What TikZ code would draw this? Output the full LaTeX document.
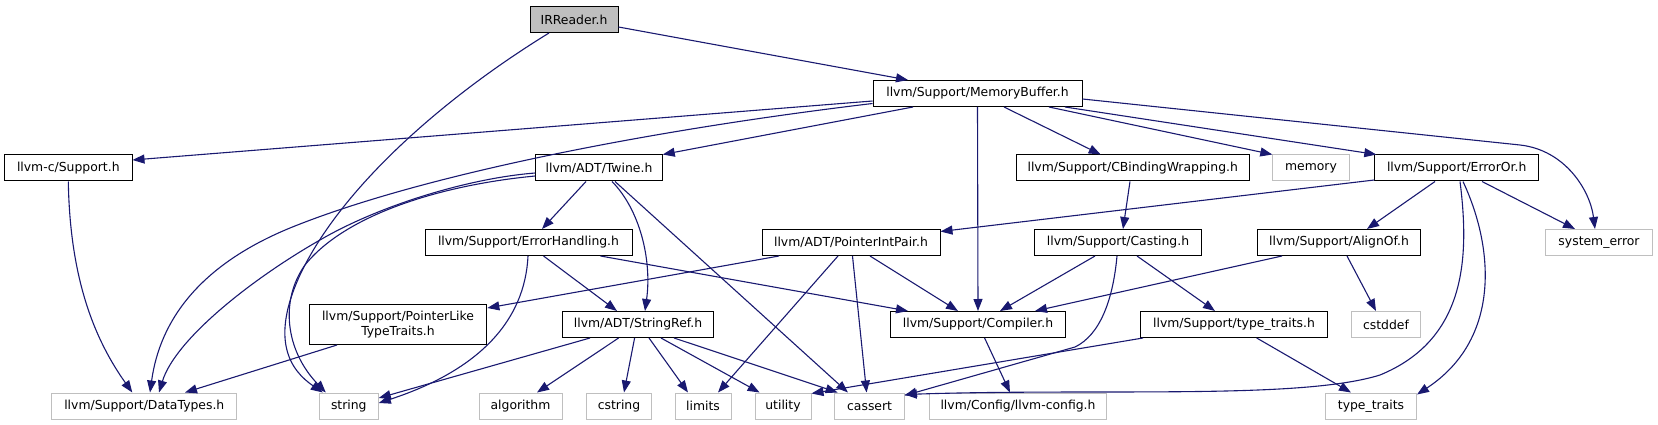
\documentclass[tikz,border=0pt]{standalone}
\usepackage{fontspec}
\newfontfamily\dv{DejaVu Sans}
\usetikzlibrary{arrows.meta}
\definecolor{edgec}{HTML}{191970}
\definecolor{extc}{HTML}{BFBFBF}
\definecolor{rootc}{HTML}{BFBFBF}
\begin{document}
\begin{tikzpicture}[x=1pt,y=-1pt,
  nd/.style={draw=black, line width=1pt, fill=white, inner sep=0pt, minimum height=26pt,
    font=\dv\fontsize{12.4}{15}\selectfont, align=center},
  ext/.style={nd, draw=extc},
  root/.style={nd, fill=rootc},
  edge/.style={draw=edgec, line width=1.1pt, -{Triangle[length=12pt,width=9pt]}}]
\useasboundingbox (0,0) rectangle (1658,425);
% nodes
\node[root, minimum width=88pt] (ir) at (574,19.5) {IRReader.h};
\node[nd, minimum width=209pt] (mb) at (977.5,93.5) {llvm/Support/MemoryBuffer.h};
\node[nd, minimum width=127.4pt] (supc) at (68.3,168) {llvm-c/Support.h};
\node[nd, minimum width=126.5pt] (twine) at (599,168) {llvm/ADT/Twine.h};
\node[nd, minimum width=233.4pt] (cbind) at (1132.7,168) {llvm/Support/CBindingWrapping.h};
\node[ext, minimum width=76.4pt] (memory) at (1311,168) {memory};
\node[nd, minimum width=163.8pt] (erroror) at (1456.7,168) {llvm/Support/ErrorOr.h};
\node[nd, minimum width=207pt] (eh) at (528.5,242.5) {llvm/Support/ErrorHandling.h};
\node[nd, minimum width=178pt] (pip) at (851,242.5) {llvm/ADT/PointerIntPair.h};
\node[nd, minimum width=166.6pt] (casting) at (1118,242.5) {llvm/Support/Casting.h};
\node[nd, minimum width=163.4pt] (alignof) at (1339,242.5) {llvm/Support/AlignOf.h};
\node[ext, minimum width=107.3pt] (syserr) at (1599,242.5) {system\_error};
\node[nd, minimum width=177.7pt, minimum height=40pt] (pltt) at (398,324.5) {llvm/Support/PointerLike\\TypeTraits.h};
\node[nd, minimum width=150.7pt] (sref) at (638,324.5) {llvm/ADT/StringRef.h};
\node[nd, minimum width=174.3pt] (compiler) at (978,324.5) {llvm/Support/Compiler.h};
\node[nd, minimum width=186.6pt] (tth) at (1234,324.5) {llvm/Support/type\_traits.h};
\node[ext, minimum width=69.6pt] (cstddef) at (1386,324.5) {cstddef};
\node[ext, minimum width=185pt] (dtypes) at (144.3,406) {llvm/Support/DataTypes.h};
\node[ext, minimum width=59pt] (string) at (348.8,406) {string};
\node[ext, minimum width=83pt] (algorithm) at (520.5,406) {algorithm};
\node[ext, minimum width=65.4pt] (cstring) at (619,406) {cstring};
\node[ext, minimum width=56pt] (limits) at (703,406) {limits};
\node[ext, minimum width=56pt] (utility) at (783,406) {utility};
\node[ext, minimum width=69.3pt] (cassert) at (869.6,406) {cassert};
\node[ext, minimum width=177.4pt] (lconfig) at (1018,406) {llvm/Config/llvm-config.h};
\node[ext, minimum width=91pt] (ttraits) at (1371,406) {type\_traits};
% edges from IRReader
\draw[edge] ([yshift=-7.5]ir.east) -- ([xshift=-69.5]mb.north);
\draw[edge] ([xshift=-25]ir.south) .. controls (440,100) and (340,190) .. (300,275) .. controls (270,340) and (290,370) .. ([xshift=-26]string.north);
% edges from MemoryBuffer
\draw[edge] ([yshift=-7.5]mb.west) -- ([yshift=8]supc.east);
\draw[edge] ([yshift=-10]mb.west) .. controls (650,130) and (420,175) .. (290,228) .. controls (200,265) and (160,320) .. ([xshift=5.7]dtypes.north);
\draw[edge] ([xshift=-64.5]mb.south) -- (twine.north east);
\draw[edge] (mb.south) -- (compiler.north);
\draw[edge] ([xshift=26.5]mb.south) -- ([xshift=-32]cbind.north);
\draw[edge] ([xshift=71.5]mb.south) -- (memory.north west);
\draw[edge] ([xshift=87.5]mb.south) -- ([xshift=2]erroror.north west);
\draw[edge] ([yshift=-5.5]mb.east) -- (1520,145) .. controls (1565,150) and (1590,190) .. ([xshift=-4]syserr.north);
% llvm-c/Support.h
\draw[edge] (supc.south) .. controls (70,280) and (95,340) .. ([xshift=-12]dtypes.north);
% Twine
\draw[edge] ([yshift=-5]twine.west) .. controls (470,178) and (380,205) .. (320,240) .. controls (250,280) and (175,340) .. ([xshift=14.7]dtypes.north);
\draw[edge] ([yshift=-8]twine.west) .. controls (440,185) and (345,215) .. (305,265) .. controls (280,300) and (285,350) .. ([xshift=-23]string.north);
\draw[edge] ([xshift=-13]twine.south) -- ([xshift=13.5]eh.north);
\draw[edge] ([xshift=13]twine.south) .. controls (640,210) and (652,260) .. ([xshift=7]sref.north);
\draw[edge] ([xshift=16]twine.south) -- ([xshift=-21.6]cassert.north);
% CBindingWrapping
\draw[edge] ([xshift=-2.7]cbind.south) -- ([xshift=5]casting.north);
% ErrorOr
\draw[edge] ([yshift=-12]erroror.west) -- ([yshift=-2.5]pip.north east);
\draw[edge] ([xshift=-21.7]erroror.south) -- ([xshift=28]alignof.north);
\draw[edge] ([xshift=25.3]erroror.south) -- ([xshift=-24]syserr.north);
\draw[edge] ([xshift=3.3]erroror.south) .. controls (1470,260) and (1465,340) .. (1380,375) .. controls (1300,400) and (1100,388) .. ([yshift=-2]cassert.north east);
\draw[edge] ([xshift=6.3]erroror.south) .. controls (1495,250) and (1500,340) .. ([yshift=-2]ttraits.north east);
% ErrorHandling
\draw[edge] ([xshift=-0.5]eh.south) .. controls (525,320) and (480,370) .. ([yshift=3]string.east);
\draw[edge] ([xshift=15]eh.south) -- ([xshift=-21]sref.north);
\draw[edge] ([xshift=72]eh.south) -- ([xshift=-70]compiler.north);
% PointerIntPair
\draw[edge] ([xshift=-72]pip.south) -- ([yshift=16.5]pltt.east);
\draw[edge] ([xshift=-13]pip.south) -- ([xshift=15]limits.north);
\draw[edge] ([xshift=1.5]pip.south) -- ([xshift=-3]cassert.north);
\draw[edge] ([xshift=19]pip.south) -- ([xshift=-20]compiler.north);
% Casting
\draw[edge] ([xshift=-23]casting.south) -- ([xshift=22]compiler.north);
\draw[edge] ([xshift=-1]casting.south) .. controls (1113,300) and (1100,335) .. (1075,347) -- ([yshift=-3]cassert.north east);
\draw[edge] ([xshift=19]casting.south) -- ([xshift=-19]tth.north);
% AlignOf
\draw[edge] ([xshift=-57]alignof.south) -- ([xshift=57]compiler.north);
\draw[edge] ([xshift=8]alignof.south) -- ([xshift=-10]cstddef.north);
% PointerLikeTypeTraits
\draw[edge] ([xshift=-61]pltt.south) -- ([xshift=40.7]dtypes.north);
% StringRef
\draw[edge] ([xshift=-48]sref.south) -- ([yshift=8]string.east);
\draw[edge] ([xshift=-19.4]sref.south) -- ([xshift=16.5]algorithm.north);
\draw[edge] ([xshift=-3.4]sref.south) -- ([xshift=5]cstring.north);
\draw[edge] ([xshift=11]sref.south) -- ([xshift=-15]limits.north);
\draw[edge] ([xshift=23]sref.south) -- ([xshift=-23.4]utility.north);
\draw[edge] ([xshift=36]sref.south) -- ([xshift=-32]cassert.north);
% Compiler
\draw[edge] ([xshift=6.6]compiler.south) -- ([xshift=-8]lconfig.north);
% type_traits.h
\draw[edge] ([xshift=-91]tth.south) -- ([yshift=-1]utility.north east);
\draw[edge] ([xshift=22.7]tth.south) -- ([xshift=-20]ttraits.north);
\end{tikzpicture}
\end{document}
